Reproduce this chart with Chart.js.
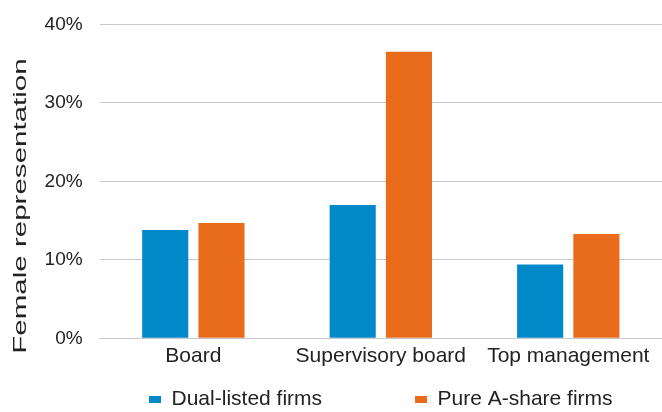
<!DOCTYPE html>
<html><head><meta charset="utf-8">
<script src="https://cdn.jsdelivr.net/npm/chart.js@4/dist/chart.umd.min.js"></script>
<style>html,body{margin:0;padding:0;background:#fff;overflow:hidden;}</style>
</head><body>
<canvas id="c" width="662" height="412"></canvas>
<script>
const categories = ['Board', 'Supervisory board', 'Top management'];
const dualListed = [13.8, 17.0, 9.4];
const pureAShare = [14.7, 36.5, 13.3];
const seriesNames = ['Dual-listed firms', 'Pure A-share firms'];
const yTickValues = [0, 10, 20, 30, 40];
const axisTitle = 'Female representation';

const FAMILY = "'Liberation Sans', Arial, sans-serif";
const TEXT = '#222222';
const GRID = '#c8c8d0';
const TITLE_STRETCH = 1.64;

const layoutTweaks = {
  id: 'layoutTweaks',
  afterLayout(chart) {
    const lg = chart.legend, ca = chart.chartArea;
    if (lg) {
      const pad = lg.options.labels.padding;
      const dx = (ca.left + ca.right) / 2 - (lg.left + lg.right) / 2;
      lg.left += dx; lg.right += dx;
      lg.top -= pad - 20;
    }
    const t = chart.titleBlock;
    if (t && !t._stretched) {
      const orig = Object.getPrototypeOf(t).draw;
      t.draw = function () {
        const ctx = this.ctx;
        const cy = (this.top + this.bottom) / 2;
        ctx.save();
        ctx.translate(0, cy);
        ctx.scale(1, TITLE_STRETCH);
        ctx.translate(0, -cy);
        orig.call(this);
        ctx.restore();
      };
      t._stretched = true;
    }
  }
};

new Chart(document.getElementById('c'), {
  type: 'bar',
  data: {
    labels: categories,
    datasets: [
      { label: seriesNames[0], data: dualListed, backgroundColor: '#0089C9', borderWidth: 0,
        categoryPercentage: 0.6, barPercentage: 0.82 },
      { label: seriesNames[1], data: pureAShare, backgroundColor: '#E96B1C', borderWidth: 0,
        categoryPercentage: 0.6, barPercentage: 0.82 }
    ]
  },
  options: {
    responsive: false,
    animation: false,
    layout: { padding: 0 },
    plugins: {
      title: {
        display: true, position: 'left', text: axisTitle, color: TEXT,
        font: { size: 18, family: FAMILY, weight: 'normal' },
        padding: { top: 10, bottom: 0 }
      },
      legend: {
        position: 'bottom', fullSize: true, maxHeight: 43,
        labels: { boxWidth: 12, boxHeight: 7, padding: 93, color: TEXT,
          font: { size: 21, family: FAMILY } }
      },
      tooltip: { enabled: false }
    },
    scales: {
      x: {
        grid: { display: true, color: 'rgba(0,0,0,0)', drawTicks: true, tickLength: 5.5,
          tickColor: 'rgba(0,0,0,0)' },
        border: { display: true, color: GRID, width: 1 },
        ticks: { padding: 0, color: TEXT, font: { size: 21, family: FAMILY },
          maxRotation: 0, autoSkip: false }
      },
      y: {
        min: 0, max: 40,
        grid: { color: GRID, lineWidth: 1, drawTicks: true, tickLength: 4,
          tickColor: 'rgba(0,0,0,0)' },
        border: { display: false },
        afterBuildTicks: s => { s.ticks = yTickValues.map(v => ({ value: v })); },
        ticks: { padding: 13, color: TEXT, font: { size: 19, family: FAMILY },
          callback: v => v + '%' }
      }
    }
  },
  plugins: [layoutTweaks]
});
</script>
</body></html>
